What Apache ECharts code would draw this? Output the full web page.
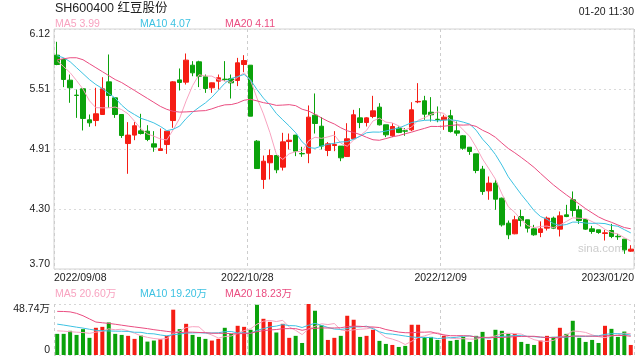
<!DOCTYPE html>
<html><head><meta charset="utf-8">
<script src="https://cdn.jsdelivr.net/npm/echarts@6/dist/echarts.min.js"></script>
<style>html,body{margin:0;padding:0;background:#fff}#c{width:640px;height:360px}</style>
</head><body><div id="c"></div>
<script>
const dates = [
'2022/09/08','2022/09/09','2022/09/13','2022/09/14','2022/09/15','2022/09/16','2022/09/19','2022/09/20','2022/09/21','2022/09/22',
'2022/09/23','2022/09/26','2022/09/27','2022/09/28','2022/09/29','2022/09/30','2022/10/10','2022/10/11','2022/10/12','2022/10/13',
'2022/10/14','2022/10/17','2022/10/18','2022/10/19','2022/10/20','2022/10/21','2022/10/24','2022/10/25','2022/10/26','2022/10/27',
'2022/10/28','2022/10/31','2022/11/01','2022/11/02','2022/11/03','2022/11/04','2022/11/07','2022/11/08','2022/11/09','2022/11/10',
'2022/11/11','2022/11/14','2022/11/15','2022/11/16','2022/11/17','2022/11/18','2022/11/21','2022/11/22','2022/11/23','2022/11/24',
'2022/11/25','2022/11/28','2022/11/29','2022/11/30','2022/12/01','2022/12/02','2022/12/05','2022/12/06','2022/12/07','2022/12/08',
'2022/12/09','2022/12/12','2022/12/13','2022/12/14','2022/12/15','2022/12/16','2022/12/19','2022/12/20','2022/12/21','2022/12/22',
'2022/12/23','2022/12/26','2022/12/27','2022/12/28','2022/12/29','2022/12/30','2023/01/03','2023/01/04','2023/01/05','2023/01/06',
'2023/01/09','2023/01/10','2023/01/11','2023/01/12','2023/01/13','2023/01/16','2023/01/17','2023/01/18','2023/01/19','2023/01/20'];

const opens = [
5.856,5.812,5.604,5.453,5.517,5.204,5.197,5.258,5.587,5.426,
5.258,4.965,5.050,5.093,5.090,4.962,4.895,4.955,5.197,5.607,
5.584,5.755,5.789,5.638,5.527,5.594,5.614,5.618,5.601,5.762,
5.755,4.989,4.603,4.771,4.844,4.727,4.985,5.050,4.865,4.868,
5.251,5.140,4.895,4.945,4.939,4.834,5.013,5.224,5.177,5.238,
5.332,5.154,5.043,5.120,5.094,5.103,5.385,5.396,5.281,5.210,
5.204,5.245,5.093,5.043,4.928,4.861,4.707,4.488,4.566,4.414,
4.162,4.055,4.229,4.196,4.105,4.068,4.112,4.213,4.102,4.246,
4.398,4.297,4.200,4.105,4.095,4.058,4.088,4.030,4.001,3.880];

const closes = [
5.762,5.611,5.527,5.450,5.218,5.174,5.265,5.517,5.450,5.258,
5.046,5.050,5.144,5.066,5.006,4.929,4.912,5.090,5.587,5.581,
5.806,5.678,5.644,5.520,5.577,5.628,5.610,5.577,5.779,5.802,
5.241,4.713,4.787,4.844,4.700,4.982,4.999,4.888,4.861,5.231,
5.167,4.939,4.962,4.955,4.821,5.013,5.255,5.177,5.224,5.295,
5.154,5.053,5.137,5.077,5.090,5.305,5.390,5.261,5.255,5.207,
5.231,5.086,5.070,4.918,4.885,4.693,4.481,4.566,4.404,4.145,
4.045,4.196,4.189,4.112,4.045,4.105,4.213,4.112,4.236,4.229,
4.290,4.189,4.102,4.078,4.068,4.065,4.028,4.025,3.893,3.900];

const highs = [
5.991,5.823,5.661,5.510,5.517,5.258,5.527,5.634,5.863,5.430,
5.258,5.181,5.181,5.265,5.150,5.090,5.117,5.090,5.594,5.722,
5.873,5.796,5.800,5.661,5.580,5.661,5.796,5.661,5.829,5.856,
5.755,5.000,4.844,4.905,4.850,5.073,5.066,5.050,4.932,5.349,
5.470,5.231,4.980,5.090,4.940,5.170,5.305,5.322,5.230,5.446,
5.372,5.154,5.170,5.137,5.120,5.382,5.574,5.446,5.433,5.339,
5.255,5.305,5.187,5.050,4.930,4.861,4.740,4.633,4.600,4.420,
4.189,4.236,4.297,4.196,4.145,4.180,4.229,4.229,4.280,4.347,
4.482,4.337,4.200,4.135,4.095,4.095,4.155,4.055,4.001,3.940];

const lows = [
5.755,5.534,5.376,5.224,5.097,5.134,5.140,5.258,5.325,5.224,
5.022,4.660,4.999,5.056,4.989,4.882,4.895,4.861,5.124,5.500,
5.560,5.644,5.534,5.476,5.476,5.510,5.594,5.419,5.544,5.685,
5.240,4.713,4.508,4.603,4.666,4.693,4.905,4.838,4.831,4.767,
5.066,4.905,4.838,4.888,4.787,4.830,5.010,5.120,5.137,5.221,
5.147,5.030,5.030,5.070,5.043,5.090,5.372,5.204,5.187,5.180,
5.103,5.076,5.043,4.902,4.851,4.666,4.448,4.398,4.297,4.128,
4.001,4.050,4.129,4.068,4.035,4.021,4.088,4.102,4.028,4.223,
4.229,4.155,4.095,4.055,4.055,3.987,4.011,3.994,3.853,3.873];

const ma5 = [
5.80,5.74,5.68,5.60,5.514,5.396,5.327,5.325,5.325,5.333,
5.307,5.264,5.190,5.113,5.062,5.039,5.011,5.001,5.105,5.220,
5.395,5.548,5.659,5.646,5.645,5.609,5.596,5.582,5.634,5.679,
5.602,5.422,5.264,5.077,4.857,4.805,4.862,4.883,4.886,4.992,
5.029,5.017,5.032,5.051,4.969,4.938,5.001,5.044,5.098,5.193,
5.221,5.181,5.173,5.143,5.102,5.132,5.200,5.225,5.260,5.284,
5.269,5.208,5.170,5.102,5.038,4.930,4.809,4.709,4.606,4.458,
4.328,4.271,4.196,4.137,4.117,4.129,4.133,4.117,4.142,4.179,
4.216,4.211,4.209,4.178,4.145,4.100,4.068,4.053,4.016,3.982];

const ma10 = [
5.85,5.83,5.79,5.73,5.67,5.61,5.56,5.52,5.47,5.423,
5.352,5.296,5.257,5.219,5.198,5.173,5.138,5.095,5.109,5.141,
5.217,5.280,5.330,5.375,5.432,5.502,5.572,5.621,5.640,5.662,
5.606,5.509,5.423,5.356,5.268,5.204,5.142,5.074,4.982,4.925,
4.917,4.940,4.957,4.968,4.981,4.984,5.009,5.038,5.074,5.081,
5.080,5.091,5.108,5.121,5.148,5.177,5.190,5.199,5.202,5.193,
5.201,5.204,5.197,5.181,5.161,5.100,5.009,4.939,4.854,4.748,
4.629,4.540,4.452,4.372,4.288,4.229,4.202,4.157,4.140,4.148,
4.173,4.172,4.163,4.160,4.162,4.158,4.140,4.131,4.097,4.064];

const ma20 = [
5.81,5.82,5.83,5.83,5.81,5.77,5.73,5.69,5.65,5.61,
5.58,5.54,5.50,5.46,5.42,5.38,5.34,5.31,5.29,5.282,
5.284,5.288,5.294,5.297,5.315,5.338,5.355,5.358,5.374,5.402,
5.411,5.395,5.377,5.366,5.350,5.353,5.357,5.347,5.311,5.293,
5.261,5.224,5.190,5.162,5.124,5.094,5.076,5.056,5.028,5.003,
4.998,5.015,5.033,5.045,5.064,5.080,5.100,5.118,5.138,5.137,
5.140,5.147,5.153,5.151,5.154,5.138,5.099,5.069,5.028,4.970,
4.915,4.872,4.825,4.776,4.724,4.664,4.605,4.548,4.497,4.448,
4.401,4.356,4.308,4.266,4.225,4.194,4.171,4.144,4.118,4.106];

const volumes = [
20.2,20.2,23.1,19.2,24.7,16.4,26.0,26.9,31.1,20.2,
19.2,18.3,15.4,18.6,12.8,13.8,15.1,18.3,43.3,24.7,
29.8,19.2,17.3,15.4,13.8,15.4,26.0,20.2,27.9,26.9,
24.1,48.0,34.6,31.7,21.5,29.8,16.4,18.3,11.5,48.74,
42.3,28.5,14.4,16.4,18.3,37.5,33.7,17.3,18.3,24.1,
13.5,10.6,9.6,7.7,8.7,28.9,28.9,17.3,17.3,14.4,
18.3,13.5,14.4,17.3,12.5,18.3,22.1,14.4,24.1,23.1,
20.2,20.2,12.5,10.6,9.6,13.8,18.3,17.3,26.0,20.2,
32.7,16.4,12.5,14.4,11.5,27.9,25.0,17.3,22.4,9.6];

const volMa5 = [
23.1,22.8,22.3,21.8,21.48,20.72,21.88,22.64,25.02,24.12,
24.68,23.14,20.84,18.34,16.86,15.78,15.14,15.72,20.66,23.04,
26.24,27.06,26.86,21.28,19.1,16.22,17.58,18.16,20.66,23.28,
25.02,29.42,32.3,33.06,31.98,33.12,26.8,23.54,19.5,24.94,
27.44,29.86,29.08,30.06,23.98,23.02,24.06,24.64,25.02,26.18,
21.38,16.76,15.22,13.1,10.02,13.1,16.76,18.3,20.22,21.36,
19.24,16.16,15.58,15.58,15.2,15.2,16.92,16.92,18.28,20.4,
20.78,20.4,20.02,17.32,14.62,13.34,12.96,13.92,17.0,19.12,
22.9,22.52,21.56,19.24,17.5,16.54,18.26,19.22,20.82,20.44];

const volMa10 = [
29.5,28.6,27.6,26.6,25.7,24.6,23.6,23.2,23.0,22.8,
22.7,22.51,21.74,21.68,20.49,20.23,19.14,18.28,19.5,19.95,
21.01,21.1,21.29,20.97,21.07,21.23,22.32,22.51,20.97,21.19,
20.62,23.5,25.23,26.86,27.63,29.07,28.11,27.92,26.28,28.46,
30.28,28.33,26.31,24.78,24.46,25.23,26.96,26.86,27.54,25.08,
22.2,20.41,19.93,19.06,18.1,17.24,16.76,16.76,16.66,15.69,
16.17,16.46,16.94,17.9,18.28,17.22,16.54,16.25,16.93,17.8,
17.99,18.66,18.47,17.8,17.51,17.06,16.68,16.97,17.16,16.87,
18.12,17.74,17.74,18.12,18.31,19.72,20.39,20.39,20.03,18.97];

const volMa20 = [
41.7,41.6,41.2,39.8,37.5,34.5,31.5,30.8,30.2,29.4,
28.5,27.6,26.8,26.0,25.2,24.2,23.4,22.6,21.9,21.38,
21.86,21.81,21.52,21.33,20.78,20.73,20.73,20.40,20.24,20.57,
20.82,22.3,23.26,23.92,24.35,25.15,25.22,25.22,23.63,24.83,
25.45,25.92,25.77,25.82,26.05,27.15,27.54,27.39,26.91,26.77,
26.24,24.37,23.12,21.92,21.28,21.24,21.86,21.81,22.1,20.39,
19.19,18.44,18.44,18.48,18.19,17.23,16.65,16.51,16.8,16.75,
17.08,17.56,17.71,17.85,17.9,17.14,16.61,16.61,17.05,17.34,
18.06,18.2,18.11,17.96,17.91,18.39,18.54,18.68,18.6,17.92];

const priceTickLabels = ['3.70','4.30','4.91','5.51','6.12'];
const volTickLabels = ['0','48.74万'];
const dateTickLabels = ['2022/09/08','2022/10/28','2022/12/09','2023/01/20'];
const priceLegend = ['MA5 3.99','MA10 4.07','MA20 4.11'];
const volLegend = ['MA5 20.60万','MA10 19.20万','MA20 18.23万'];
const titleText = 'SH600400 红豆股份';
const timeText = '01-20 11:30';

const FONT = '"Liberation Sans", Arial, "Noto Sans CJK SC", sans-serif';
const UP = '#f51d14', DOWN = '#0ba20b';
const C5 = '#f8a3c0', C10 = '#3dc2e2', C20 = '#ea4c80';

const chart = echarts.init(document.getElementById('c'));
const candleData = dates.map((d, i) => [opens[i], closes[i], lows[i], highs[i]]);
const volData = volumes.map((v, i) => ({ value: v, itemStyle: { color: closes[i] >= opens[i] ? UP : DOWN } }));

function txt(x, y, s, color, size, align) {
  return { type: 'text', x: x, y: y, silent: true,
    style: { text: s, fill: color, font: size + 'px ' + FONT, align: align || 'left', verticalAlign: 'middle' } };
}
function maLine(name, data, color, xi, yi) {
  return { name: name, type: 'line', data: data, xAxisIndex: xi, yAxisIndex: yi, symbol: 'none',
    lineStyle: { width: 1, color: color }, itemStyle: { color: color }, z: 5 };
}

const option = {
  animation: false,
  textStyle: { fontFamily: FONT },
  grid: [
    { left: 54, right: 6, top: 29, height: 240, show: true, borderColor: '#d2d2d2', borderWidth: 1,
      containLabel: false, outerBoundsMode: 'none' },
    { left: 54, right: 6, top: 304, height: 51, show: false, containLabel: false, outerBoundsMode: 'none' }
  ],
  xAxis: [
    { type: 'category', gridIndex: 0, data: dates, boundaryGap: true, show: false },
    { type: 'value', gridIndex: 0, min: 0, max: 90, interval: 30, position: 'bottom',
      axisLine: { show: false }, axisTick: { show: false },
      splitLine: { show: true, lineStyle: { color: '#cdcdcd', type: [3, 3] } },
      axisLabel: { show: true, margin: 4, color: '#222', fontSize: 10.5, fontFamily: FONT,
        formatter: v => dateTickLabels[Math.round(v / 30)], alignMinLabel: 'left', alignMaxLabel: 'right' } },
    { type: 'category', gridIndex: 1, data: dates, boundaryGap: true, show: false },
    { type: 'value', gridIndex: 1, min: 0, max: 90, interval: 30, position: 'bottom',
      axisLine: { show: false }, axisTick: { show: false }, axisLabel: { show: false },
      splitLine: { show: true, lineStyle: { color: '#cdcdcd', type: [3, 3] } } }
  ],
  yAxis: [
    { type: 'value', gridIndex: 0, min: 3.70, max: 6.12, show: false, position: 'left' },
    { type: 'value', gridIndex: 0, min: 0, max: 4, interval: 1, position: 'left',
      axisLine: { show: false }, axisTick: { show: false },
      splitLine: { show: true, lineStyle: { color: '#dadada', type: [2, 3] } },
      axisLabel: { margin: 4, color: '#222', fontSize: 10.5, fontFamily: FONT,
        formatter: v => priceTickLabels[Math.round(v)],
        verticalAlignMinLabel: 'bottom', verticalAlignMaxLabel: 'top' } },
    { type: 'value', gridIndex: 1, min: 0, max: 48.74, interval: 48.74, position: 'left',
      axisLine: { show: false }, axisTick: { show: false },
      splitLine: { show: true, lineStyle: { color: '#d6d6d6', type: [2, 3] } },
      axisLabel: { margin: 4, color: '#222', fontSize: 10.5, fontFamily: FONT,
        formatter: v => (v === 0 ? volTickLabels[0] : volTickLabels[1]),
        verticalAlignMinLabel: 'bottom', verticalAlignMaxLabel: 'top' } }
  ],
  series: [
    { type: 'candlestick', xAxisIndex: 0, yAxisIndex: 0, data: candleData, barWidth: 5,
      itemStyle: { color: UP, color0: DOWN, borderColor: UP, borderColor0: DOWN, borderWidth: 1 } },
    maLine('MA5', ma5, C5, 0, 0),
    maLine('MA10', ma10, C10, 0, 0),
    maLine('MA20', ma20, C20, 0, 0),
    { type: 'bar', xAxisIndex: 2, yAxisIndex: 2, data: volData, barWidth: 4 },
    maLine('VMA5', volMa5, C5, 2, 2),
    maLine('VMA10', volMa10, C10, 2, 2),
    maLine('VMA20', volMa20, C20, 2, 2)
  ],
  graphic: [
    txt(55, 9, titleText, '#222', 12.5),
    txt(634, 12, timeText, '#222', 10.5, 'right'),
    txt(55, 24, priceLegend[0], C5, 10.5),
    txt(140, 24, priceLegend[1], C10, 10.5),
    txt(225, 24, priceLegend[2], C20, 10.5),
    txt(55, 294.5, volLegend[0], C5, 10.5),
    txt(140, 294.5, volLegend[1], C10, 10.5),
    txt(225, 294.5, volLegend[2], C20, 10.5),
    txt(624, 249, 'sina.com', '#cdcdcd', 11.5, 'right')
  ]
};
chart.setOption(option);
</script>
</body></html>
